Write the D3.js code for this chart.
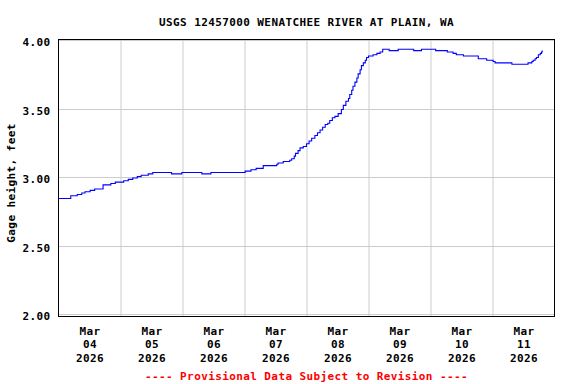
<!DOCTYPE html>
<html>
<head>
<meta charset="utf-8">
<script src="https://cdn.jsdelivr.net/npm/d3@7"></script>
<style>
  body { margin: 0; background: #fff; }
  text { font-family: "DejaVu Sans Mono", monospace; font-weight: bold; font-size: 11px; letter-spacing: 0.4px; }
</style>
</head>
<body>
<div class="chart"></div>
<script>
// Gage height readings (UTC clock, step data, 0.01 ft resolution)
var times = [
  "03-04 00:00", "03-04 04:45", "03-04 07:15", "03-04 09:00", "03-04 10:15", "03-04 12:15",
  "03-04 14:00", "03-04 17:15", "03-04 20:15", "03-04 22:00", "03-05 01:15", "03-05 03:00",
  "03-05 04:45", "03-05 06:30", "03-05 08:00", "03-05 10:45", "03-05 12:30", "03-05 19:45",
  "03-05 23:45", "03-06 07:30", "03-06 11:00", "03-07 00:15", "03-07 02:30", "03-07 04:30",
  "03-07 07:15", "03-07 12:30", "03-07 13:00", "03-07 15:00", "03-07 17:30", "03-07 18:15",
  "03-07 19:15", "03-07 19:45", "03-07 20:45", "03-07 21:30", "03-07 22:45", "03-08 00:00",
  "03-08 01:00", "03-08 02:00", "03-08 03:15", "03-08 04:15", "03-08 05:15", "03-08 06:15",
  "03-08 07:15", "03-08 08:15", "03-08 09:00", "03-08 10:00", "03-08 11:00", "03-08 12:15",
  "03-08 13:30", "03-08 14:15", "03-08 15:15", "03-08 16:15", "03-08 16:45", "03-08 17:30",
  "03-08 18:00", "03-08 18:45", "03-08 19:30", "03-08 20:00", "03-08 20:45", "03-08 21:15",
  "03-08 22:00", "03-08 22:45", "03-08 23:15", "03-09 00:00", "03-09 01:45", "03-09 03:15",
  "03-09 04:30", "03-09 05:30", "03-09 08:00", "03-09 11:30", "03-09 17:30", "03-09 20:30",
  "03-10 02:00", "03-10 06:30", "03-10 08:45", "03-10 10:00", "03-10 12:45", "03-10 18:30",
  "03-10 21:45", "03-11 00:15", "03-11 01:00", "03-11 07:30", "03-11 13:45", "03-11 15:15",
  "03-11 15:45", "03-11 16:30", "03-11 17:00", "03-11 17:45", "03-11 18:30", "03-11 19:00",
  "03-11 19:15"
];
var gageHeight = [
  2.85, 2.87, 2.88, 2.89, 2.90, 2.91,
  2.92, 2.95, 2.96, 2.97, 2.98, 2.99,
  3.00, 3.01, 3.02, 3.03, 3.04, 3.03,
  3.04, 3.03, 3.04, 3.05, 3.06, 3.07,
  3.09, 3.10, 3.11, 3.12, 3.13, 3.14,
  3.16, 3.18, 3.20, 3.22, 3.23, 3.25,
  3.27, 3.29, 3.31, 3.33, 3.35, 3.37,
  3.39, 3.40, 3.42, 3.44, 3.45, 3.47,
  3.50, 3.53, 3.56, 3.58, 3.61, 3.64,
  3.67, 3.70, 3.73, 3.76, 3.79, 3.82,
  3.84, 3.86, 3.88, 3.89, 3.90, 3.91,
  3.92, 3.94, 3.93, 3.94, 3.93, 3.94,
  3.93, 3.92, 3.91, 3.90, 3.89, 3.87,
  3.86, 3.85, 3.84, 3.83, 3.84, 3.85,
  3.86, 3.87, 3.88, 3.90, 3.91, 3.92,
  3.93
];
var yTicks = [2.00, 2.50, 3.00, 3.50, 4.00];
var startDay = "03-04 00:00";
var endDay = "03-12 00:00";

var titleText = "USGS 12457000 WENATCHEE RIVER AT PLAIN, WA";
var yLabel = "Gage height, feet";
var footText = "---- Provisional Data Subject to Revision ----";

var svgWidth = 576;
var svgHeight = 384;
var margin = { top: 41, right: 21.5, bottom: 69, left: 58.5 };
var width = svgWidth - margin.left - margin.right;
var height = svgHeight - margin.top - margin.bottom;

var parseTime = d3.utcParse("%Y-%m-%d %H:%M");
var toDate = s => parseTime("2026-" + s);

var data = times.map((t, i) => ({ date: toDate(t), value: gageHeight[i] }));

var svg = d3.select(".chart")
  .append("svg")
  .attr("width", svgWidth)
  .attr("height", svgHeight);

var chartGroup = svg.append("g")
  .attr("transform", `translate(${margin.left}, ${margin.top})`);

// scales
var xTimeScale = d3.scaleUtc()
  .domain([toDate(startDay), toDate(endDay)])
  .range([0, width]);

var yLinearScale = d3.scaleLinear()
  .domain([2, 4])
  .range([height, 0]);

// grid
var dayLines = d3.utcDay.range(d3.utcDay.offset(toDate(startDay), 1), toDate(endDay));
chartGroup.append("g")
  .selectAll("line")
  .data(dayLines)
  .enter()
  .append("line")
  .attr("x1", d => Math.round(xTimeScale(d)) + 0.5)
  .attr("x2", d => Math.round(xTimeScale(d)) + 0.5)
  .attr("y1", -1.5)
  .attr("y2", height + 1.5)
  .attr("stroke", "#cccccc");

chartGroup.append("g")
  .selectAll("line")
  .data(yTicks)
  .enter()
  .append("line")
  .attr("x1", 0)
  .attr("x2", width)
  .attr("y1", d => Math.round(yLinearScale(d)) - 0.5)
  .attr("y2", d => Math.round(yLinearScale(d)) - 0.5)
  .attr("stroke", "#cccccc");

// line
var line = d3.line()
  .x(d => xTimeScale(d.date))
  .y(d => yLinearScale(d.value))
  .curve(d3.curveStepAfter);

chartGroup.append("path")
  .datum(data)
  .attr("d", line)
  .attr("fill", "none")
  .attr("stroke", "#0000ff")
  .attr("stroke-width", 1.1);

// frame
chartGroup.append("rect")
  .attr("x", 0)
  .attr("y", -1.5)
  .attr("width", width)
  .attr("height", height + 3)
  .attr("fill", "none")
  .attr("stroke", "#000");

// axes
var noons = d3.utcDay.range(toDate(startDay), toDate(endDay)).map(d => d3.utcHour.offset(d, 12));
var dateLines = [d3.utcFormat("%b"), d3.utcFormat("%d"), d3.utcFormat("%Y")];

var bottomAxis = d3.axisBottom(xTimeScale)
  .tickValues(noons)
  .tickSize(0)
  .tickFormat("");

var xAxisGroup = chartGroup.append("g")
  .attr("transform", `translate(0, ${height})`)
  .call(bottomAxis);
xAxisGroup.select(".domain").remove();
xAxisGroup.selectAll(".tick text")
  .attr("y", 19.5)
  .attr("dy", 0)
  .each(function (d) {
    var t = d3.select(this);
    dateLines.forEach(function (fmt, i) {
      t.append("tspan")
        .attr("x", 0)
        .attr("dy", i ? 13.5 : 0)
        .text(fmt(d));
    });
  });

var leftAxis = d3.axisLeft(yLinearScale)
  .tickValues(yTicks)
  .tickSize(0)
  .tickPadding(8)
  .tickFormat(d3.format(".2f"));

var yAxisGroup = chartGroup.append("g").call(leftAxis);
yAxisGroup.select(".domain").remove();
yAxisGroup.selectAll(".tick text").attr("dy", 4.5);

svg.selectAll(".tick text")
  .attr("fill", "#000")
  .style("font-family", null)
  .style("font-size", null);
svg.selectAll(".tick").attr("font-family", null).attr("font-size", null);
xAxisGroup.attr("font-family", null).attr("font-size", null);
yAxisGroup.attr("font-family", null).attr("font-size", null);

// texts
svg.append("text")
  .attr("x", margin.left + width / 2)
  .attr("y", 25.5)
  .attr("text-anchor", "middle")
  .text(titleText);

svg.append("text")
  .attr("transform", "rotate(-90)")
  .attr("x", -183)
  .attr("y", 15)
  .attr("text-anchor", "middle")
  .text(yLabel);

svg.append("text")
  .attr("x", margin.left + width / 2)
  .attr("y", 380)
  .attr("text-anchor", "middle")
  .attr("fill", "#ff0000")
  .text(footText);
</script>
</body>
</html>
